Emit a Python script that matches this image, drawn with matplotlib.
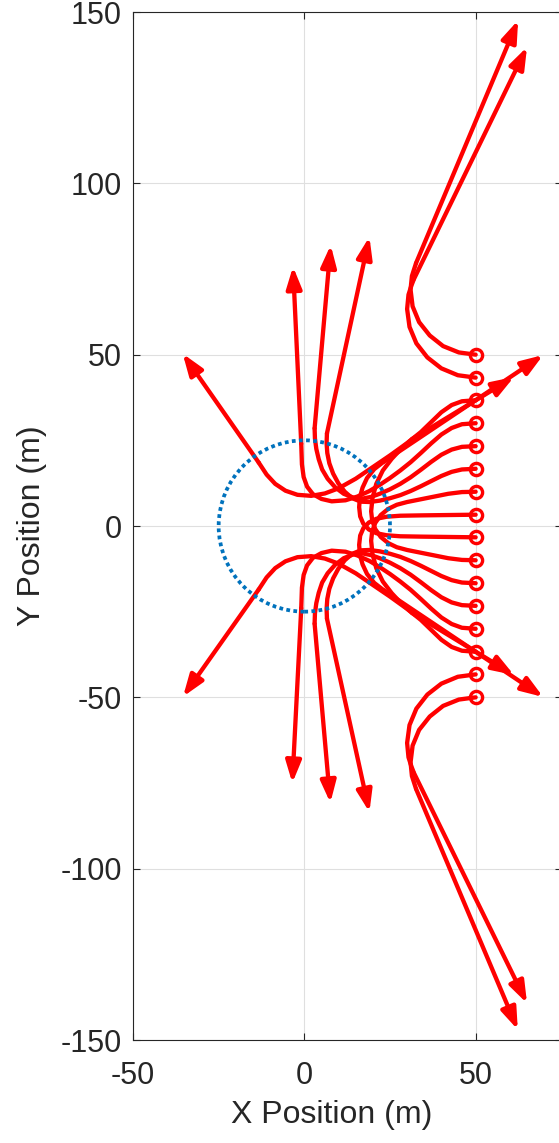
import matplotlib
matplotlib.use('Agg')
import matplotlib.pyplot as plt
from matplotlib.patches import Circle

plt.rcParams['font.family'] = ['Liberation Sans', 'DejaVu Sans']
plt.rcParams['axes.unicode_minus'] = False

# >>> trajectories (x, y in metres), last point = arrow tip
# upper half
p1_x = [50, 45.1, 40.5, 36.6, 33.5, 31.6, 31.0, 31.4, 32.6, 62.4]
p1_y = [50, 50.65, 52.5, 55.6, 59.5, 64.1, 69.0, 72.95, 76.7, 147.6]
p2_x = [50, 44.8, 40.0, 35.9, 32.7, 30.7, 30.0, 30.4, 31.3, 32.0, 65.0]
p2_y = [43.3, 44.0, 46.0, 49.2, 53.3, 58.1, 63.3, 67.5, 70.3, 72.1, 139.8]
p3_x = [50, 46, 43, 40, 37, 34, 30, 25, 20, 15, 10, 6, 2, -2, -5.5, -8.5, -11, -13.3, -35.5]
p3_y = [36.7, 36.4, 35.3, 33.2, 30.3, 27.4, 24.2, 20.6, 17.2, 13.8, 11, 9.5, 8.8, 9.1, 10.3, 12.3, 15, 18.5, 50.3]
p4_x = [50, 46, 43, 40, 37, 34, 31, 28, 25, 22, 19, 15.5, 12, 8, 5, 2.5, 0.8, -0.2, -0.7, -0.9, -3.3]
p4_y = [30, 29.7, 28.6, 26.7, 24.1, 21.3, 18.6, 16.2, 14, 12, 10.2, 8.6, 7.5, 7.2, 7.9, 9.3, 11.5, 14.3, 18, 24, 75.7]
p5_x = [50, 46, 43, 40, 37, 34, 31, 28, 25, 22, 19.5, 17, 14.5, 11.5, 9, 6.8, 5.2, 4.2, 3.5, 3.1, 3.0, 7.7]
p5_y = [23.3, 23.1, 22.3, 20.8, 18.7, 16.4, 14.2, 12.3, 10.7, 9.4, 8.5, 8.0, 8.2, 9.4, 11.3, 13.8, 16.5, 19.5, 22.5, 25.5, 28.5, 82]
p6_x = [50, 46, 43, 40, 37, 34, 31, 28, 25, 22, 19, 16.5, 14, 11.8, 9.9, 8.4, 7.3, 6.7, 6.5, 6.6, 19]
p6_y = [16.7, 16.5, 15.8, 14.6, 13.1, 11.6, 10.2, 9.0, 8.1, 7.4, 7.0, 7.1, 8.1, 10.0, 12.5, 15.3, 18.3, 21.3, 24.2, 27.0, 84.4]
p7_x = [50, 46, 42, 38, 34, 30, 27, 24.5, 22.3, 20.7, 19.8, 19.5, 19.9, 21.0, 22.9, 25.5, 28.3, 31.5, 61.2]
p7_y = [10, 9.9, 9.4, 8.6, 7.8, 7.0, 6.2, 5.0, 3.2, 0.9, -1.6, -4.3, -8.2, -12.3, -16.2, -19.6, -22.6, -25.4, -43.5]
p8_x = [50, 42, 34, 28, 24, 21, 18.8, 17.2, 16.3, 16, 16.2, 17, 18.3, 20.4, 23.1, 69.7]
p8_y = [3.3, 3.2, 3.1, 3.0, 2.7, 2.1, 1.0, -0.7, -2.8, -5.5, -8.3, -11.2, -14, -16.6, -18.7, -49.9]
# lower half
p9_x = [50, 42, 34, 28, 24, 21, 18.8, 17.2, 16.3, 16, 16.2, 17, 18.3, 20.4, 23.1, 69.7]
p9_y = [-3.3, -3.2, -3.1, -3.0, -2.7, -2.1, -1.0, 0.7, 2.8, 5.5, 8.3, 11.2, 14, 16.6, 18.7, 49.9]
p10_x = [50, 46, 42, 38, 34, 30, 27, 24.5, 22.3, 20.7, 19.8, 19.5, 19.9, 21.0, 22.9, 25.5, 28.3, 31.5, 61.2]
p10_y = [-10, -9.9, -9.4, -8.6, -7.8, -7.0, -6.2, -5.0, -3.2, -0.9, 1.6, 4.3, 8.2, 12.3, 16.2, 19.6, 22.6, 25.4, 43.5]
p11_x = [50, 46, 43, 40, 37, 34, 31, 28, 25, 22, 19, 16.5, 14, 11.8, 9.9, 8.4, 7.3, 6.7, 6.5, 6.6, 19]
p11_y = [-16.7, -16.5, -15.8, -14.6, -13.1, -11.6, -10.2, -9.0, -8.1, -7.4, -7.0, -7.1, -8.1, -10.0, -12.5, -15.3, -18.3, -21.3, -24.2, -27.0, -83.5]
p12_x = [50, 46, 43, 40, 37, 34, 31, 28, 25, 22, 19.5, 17, 14.5, 11.5, 9, 6.8, 5.2, 4.2, 3.5, 3.1, 3.0, 7.6]
p12_y = [-23.3, -23.1, -22.3, -20.8, -18.7, -16.4, -14.2, -12.3, -10.7, -9.4, -8.5, -8.0, -8.2, -9.4, -11.3, -13.8, -16.5, -19.5, -22.5, -25.5, -28.5, -80.8]
p13_x = [50, 46, 43, 40, 37, 34, 31, 28, 25, 22, 19, 15.5, 12, 8, 5, 2.5, 0.8, -0.2, -0.7, -0.9, -3.5]
p13_y = [-30, -29.7, -28.6, -26.7, -24.1, -21.3, -18.6, -16.2, -14, -12, -10.2, -8.6, -7.5, -7.2, -7.9, -9.3, -11.5, -14.3, -18, -24, -75]
p14_x = [50, 46, 43, 40, 37, 34, 30, 25, 20, 15, 10, 6, 2, -2, -5.5, -8.5, -11, -13.3, -35.4]
p14_y = [-36.7, -36.4, -35.3, -33.2, -30.3, -27.4, -24.2, -20.6, -17.2, -13.8, -11, -9.5, -8.8, -9.1, -10.3, -12.3, -15, -18.5, -49.8]
p15_x = [50, 44.8, 40.0, 35.9, 32.7, 30.7, 30.0, 30.4, 31.3, 32.0, 65.0]
p15_y = [-43.3, -44.0, -46.0, -49.2, -53.3, -58.1, -63.3, -67.5, -70.3, -72.1, -139.3]
p16_x = [50, 45.1, 40.5, 36.6, 33.5, 31.6, 31.0, 31.4, 32.6, 62.3]
p16_y = [-50, -50.65, -52.5, -55.6, -59.5, -64.1, -69.0, -72.95, -76.7, -147]

paths = [(p1_x, p1_y), (p2_x, p2_y), (p3_x, p3_y), (p4_x, p4_y),
         (p5_x, p5_y), (p6_x, p6_y), (p7_x, p7_y), (p8_x, p8_y),
         (p9_x, p9_y), (p10_x, p10_y), (p11_x, p11_y), (p12_x, p12_y),
         (p13_x, p13_y), (p14_x, p14_y), (p15_x, p15_y), (p16_x, p16_y)]

circle_r = 25
x_ticks = [-50, 0, 50]
y_ticks = [-150, -100, -50, 0, 50, 100, 150]

txt = '#262626'
red = '#FF0000'

fig = plt.figure(figsize=(5.59, 11.43), dpi=100)
ax = fig.add_axes([133/559, 103/1143, 429/559, 1028/1143])

for px, py in paths:
    ax.plot(px[:-1], py[:-1], color=red, lw=3.1, solid_capstyle='round',
            solid_joinstyle='round', zorder=2)
    ax.annotate('', xy=(px[-1], py[-1]), xytext=(px[-2], py[-2]),
                arrowprops=dict(arrowstyle='-|>,head_length=0.9,head_width=0.32',
                                mutation_scale=14.5, color=red, lw=3.1,
                                shrinkA=0, shrinkB=0), zorder=2)
    ax.plot(px[0], py[0], 'o', mfc='none', mec=red, ms=8.8, mew=2.4, zorder=3)

ax.add_patch(Circle((0, 0), circle_r, fill=False, edgecolor='#0072BD',
                    lw=2.7, linestyle=(0, (1, 0.9)), zorder=4))

ax.set_xlim(-50, 75.2)
ax.set_ylim(-150, 150)
ax.set_xticks(x_ticks)
ax.set_yticks(y_ticks)
ax.grid(True, color='#DFDFDF', lw=0.8)
ax.set_axisbelow(True)
ax.tick_params(direction='in', length=5, width=0.8, top=True, right=True,
               colors=txt, labelsize=22)
ax.tick_params(axis='y', pad=8)
ax.tick_params(axis='x', pad=15)
for s in ax.spines.values():
    s.set_color(txt)
    s.set_linewidth(0.8)

ax.set_xlabel('X Position (m)', fontsize=23, color=txt)
ax.set_ylabel('Y Position (m)', fontsize=23, color=txt)
ax.xaxis.set_label_coords(0.464, -0.058)
ax.yaxis.set_label_coords(-0.2, 0.5)

fig.savefig('out.png', dpi=100)
